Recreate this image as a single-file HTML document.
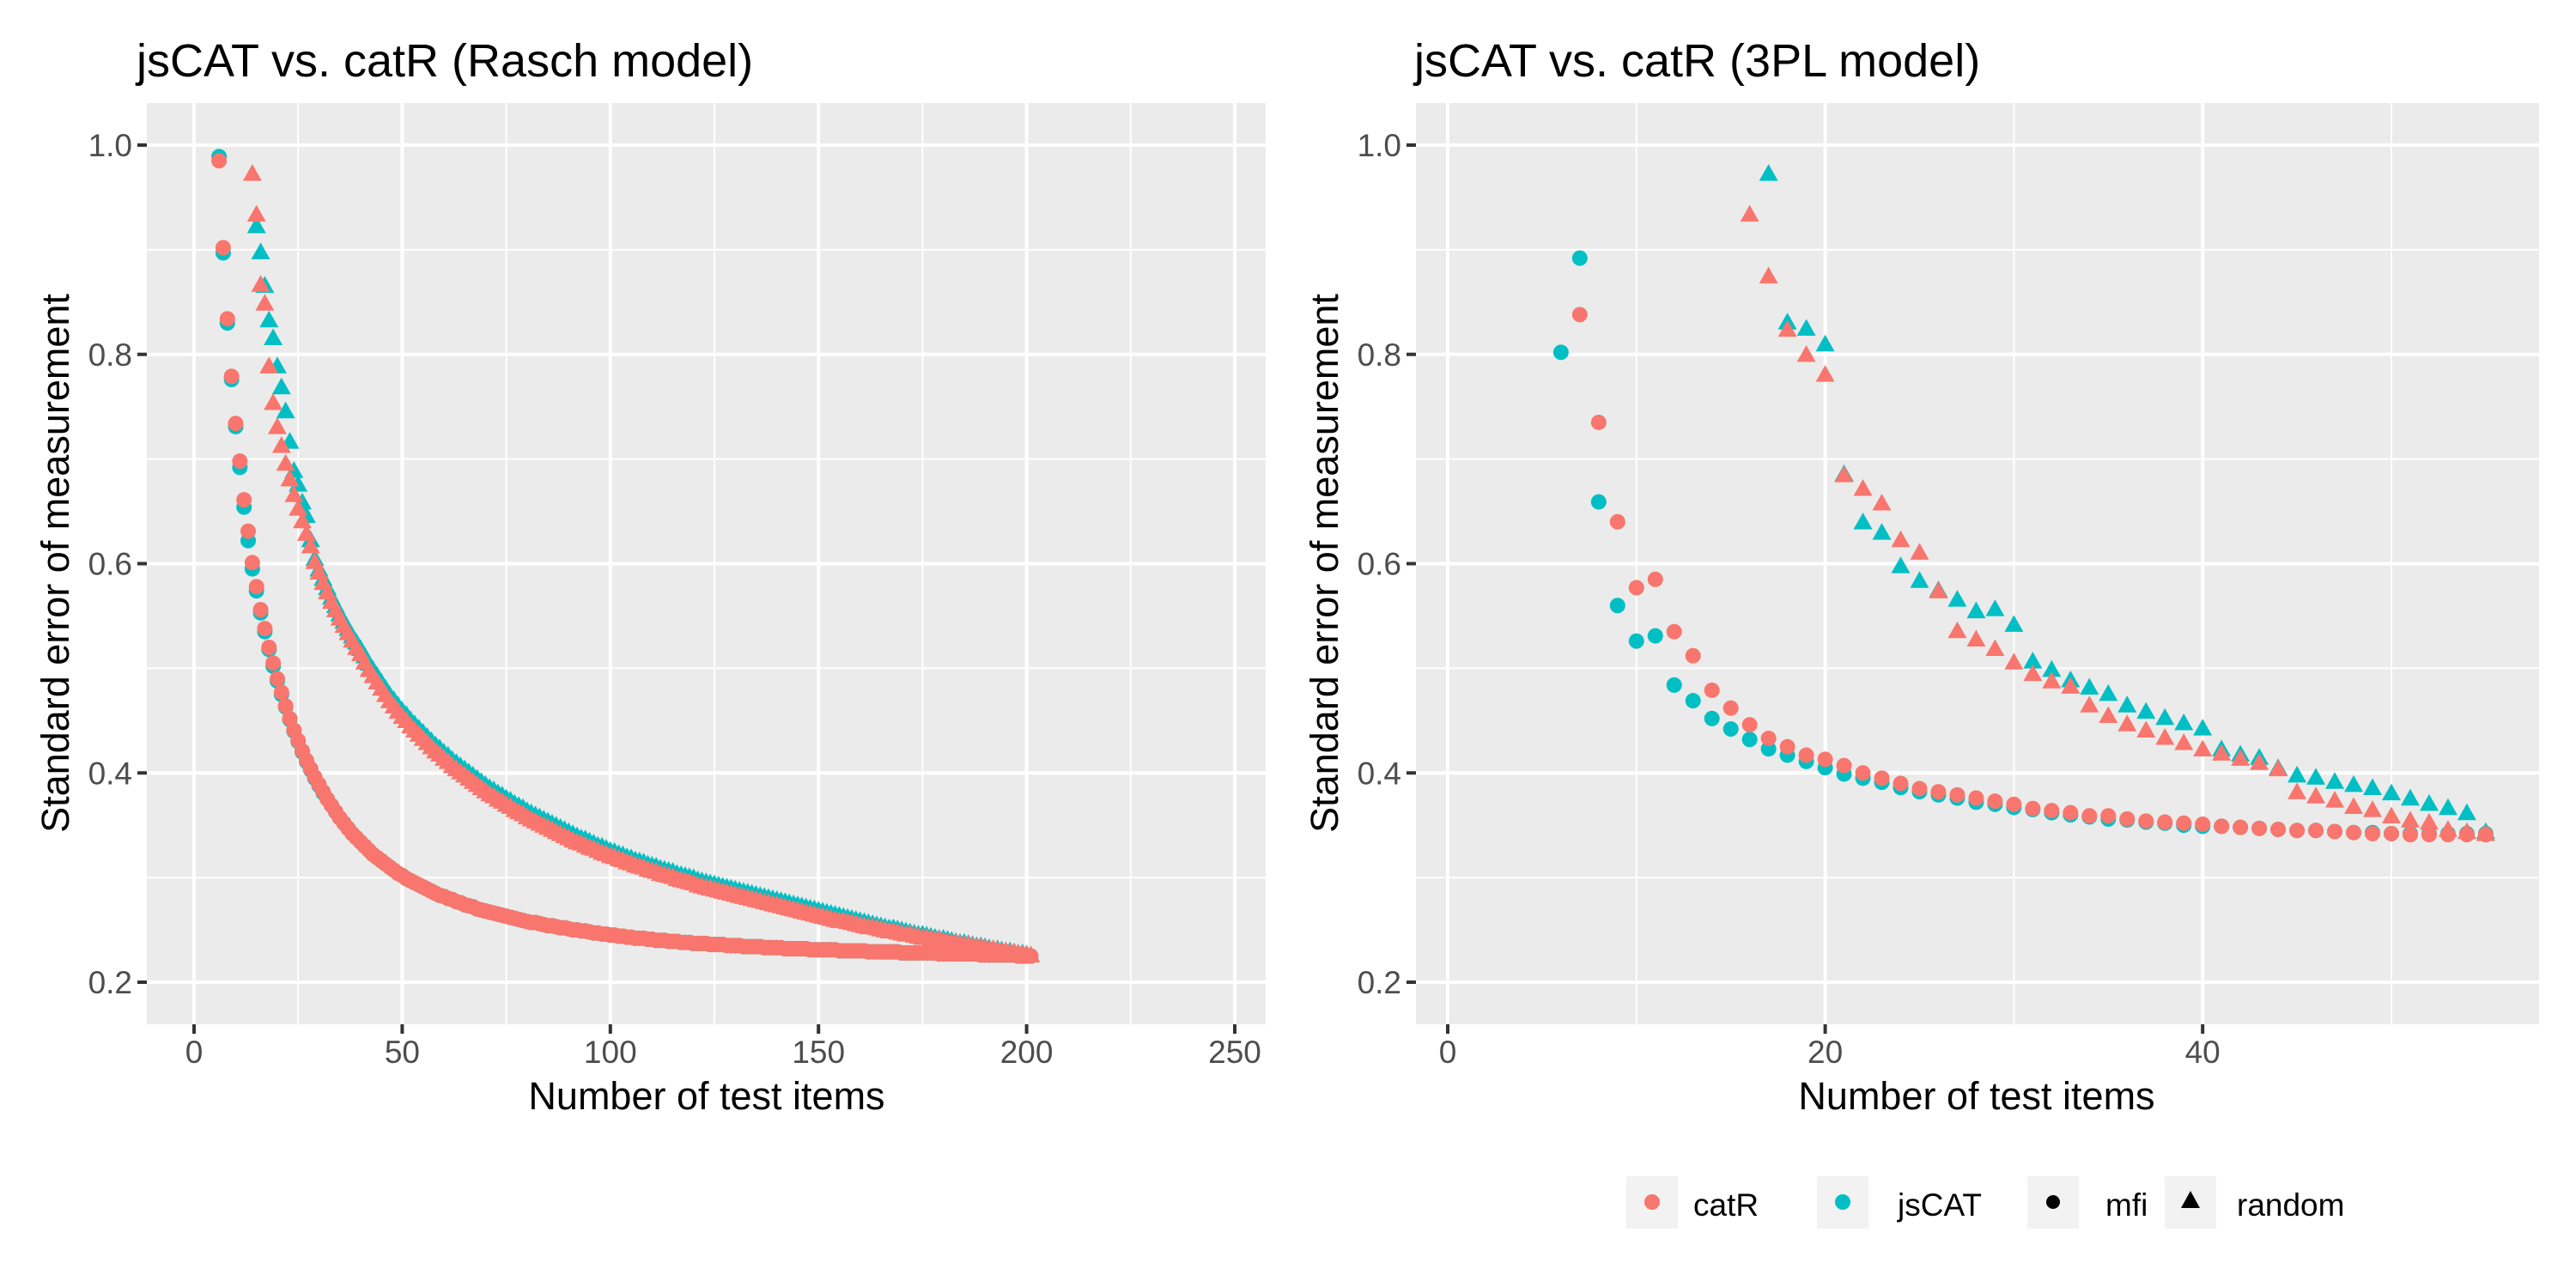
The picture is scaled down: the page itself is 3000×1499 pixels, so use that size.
<!DOCTYPE html>
<html><head><meta charset="utf-8"><style>
html,body{margin:0;padding:0;background:#fff;}
svg{display:block;font-family:"Liberation Sans",Arial,sans-serif;}
</style></head><body>
<svg id="chart" width="3000" height="1499" viewBox="0 0 3000 1499" xmlns="http://www.w3.org/2000/svg">
<rect x="0" y="0" width="3000" height="1499" fill="#fff"/>
<g id="left"></g>
<g id="right"></g>
<text x="159" y="89" font-size="54" fill="#000">jsCAT vs. catR (Rasch model)</text>
<text x="1647" y="89" font-size="54" fill="#000">jsCAT vs. catR (3PL model)</text>
<text x="823" y="1292" font-size="45" text-anchor="middle">Number of test items</text>
<text x="2302" y="1292" font-size="45" text-anchor="middle">Number of test items</text>
<text transform="translate(80,656) rotate(-90)" font-size="45" text-anchor="middle">Standard error of measurement</text>
<text transform="translate(1558,656) rotate(-90)" font-size="45" text-anchor="middle">Standard error of measurement</text>
<g id="legend">
 <g>
  <rect x="1894" y="1370" width="60" height="61" fill="#F2F2F2"/>
  <circle cx="1924" cy="1400" r="9" fill="#F8766D"/>
  <text x="1972" y="1416" font-size="37">catR</text>
 </g>
 <g>
  <rect x="2116" y="1370" width="60" height="61" fill="#F2F2F2"/>
  <circle cx="2146" cy="1400" r="9" fill="#00BFC4"/>
  <text x="2210" y="1416" font-size="37">jsCAT</text>
 </g>
 <g>
  <rect x="2361" y="1370" width="60" height="61" fill="#F2F2F2"/>
  <circle cx="2391" cy="1400" r="8" fill="#000"/>
  <text x="2452" y="1416" font-size="37">mfi</text>
 </g>
 <g>
  <rect x="2521" y="1370" width="60" height="61" fill="#F2F2F2"/>
  <polygon points="2551,1387 2562,1407 2540,1407" fill="#000"/>
  <text x="2605" y="1416" font-size="37">random</text>
 </g>
</g>
</svg>
<script>
// ---- Rasch panel data ----
const raschCatRMfiStart = 6;
const raschCatRMfi = [.985,.902,.834,.779,.734,.698,.661,.631,.601,.578,.556,.538,.520,.505,.490,.477,.464,.452,.441,.431,.421,.412,.404,.396,.389,
.382,.375,.369,.363,.357,.352,.347,.342,.338,.334,
.330,.326,.322,.319,.316,.313,.310,.307,.304,.302,
.299,.297,.295,.293,.291,.289,.287,.285,.283,.282,
.280,.279,.277,.276,.274,.273,.272,.270,.269,.268,
.267,.266,.265,.264,.263,.262,.261,.260,.259,.258,
.257,.257,.256,.255,.254,.254,.253,.252,.252,.251,
.250,.250,.249,.249,.248,.247,.247,.246,.246,.245,
.245,.244,.244,.243,.243,.242,.242,.242,.241,.241,
.240,.240,.240,.239,.239,.239,.238,.238,.238,.237,
.237,.237,.237,.236,.236,.236,.236,.235,.235,.235,
.235,.234,.234,.234,.234,.234,.233,.233,.233,.233,
.233,.232,.232,.232,.232,.232,.232,.231,.231,.231,
.231,.231,.231,.231,.230,.230,.230,.230,.230,.230,
.230,.229,.229,.229,.229,.229,.229,.229,.229,.228,
.228,.228,.228,.228,.228,.228,.228,.228,.227,.227,
.227,.227,.227,.227,.227,.227,.227,.227,.226,.226,
.226,.226,.226,.226,.226,.226,.226,.225,.225,.225,.225];
const raschJsMfiStart = 6;
const raschJsMfi = [.989,.897,.830,.776,.731,.692,.654,.622,.595,.574,.553,.535,.518,.502,.488,.475,.463,.451,.440,.430,.420,.411,.403,.395,.388,
.381,.375,.369,.363,.357,.352,.347,.342,.338,.334,
.330,.326,.322,.319,.316,.313,.310,.307,.304,.302,
.299,.297,.295,.293,.291,.289,.287,.285,.283,.282,
.280,.279,.277,.276,.274,.273,.272,.270,.269,.268,
.267,.266,.265,.264,.263,.262,.261,.260,.259,.258,
.257,.257,.256,.255,.254,.254,.253,.252,.252,.251,
.250,.250,.249,.249,.248,.247,.247,.246,.246,.245,
.245,.244,.244,.243,.243,.242,.242,.242,.241,.241,
.240,.240,.240,.239,.239,.239,.238,.238,.238,.237,
.237,.237,.237,.236,.236,.236,.236,.235,.235,.235,
.235,.234,.234,.234,.234,.234,.233,.233,.233,.233,
.233,.232,.232,.232,.232,.232,.232,.231,.231,.231,
.231,.231,.231,.231,.230,.230,.230,.230,.230,.230,
.230,.229,.229,.229,.229,.229,.229,.229,.229,.228,
.228,.228,.228,.228,.228,.228,.228,.228,.227,.227,
.227,.227,.227,.227,.227,.227,.227,.227,.226,.226,
.226,.226,.226,.226,.226,.226,.226,.225,.225,.225,.225];
const raschCatRRandStart = 14;
const raschCatRRand = [.972,.933,.866,.848,.788,.753,.730,.712,.695,.680,.665,.652,.640,.628,.616,.601,.591,
.581,.572,.563,.555,.547,.540,.533,.526,.519,.513,
.505,.498,.492,.486,.480,.474,.468,.463,.458,.453,
.449,.444,.440,.436,.432,.428,.424,.420,.417,.413,
.410,.406,.403,.400,.397,.394,.391,.388,.385,.382,
.379,.377,.374,.372,.369,.367,.364,.362,.360,.357,
.355,.353,.351,.349,.347,.345,.343,.341,.339,.337,
.335,.333,.332,.330,.328,.327,.325,.323,.322,.320,
.319,.317,.316,.314,.313,.311,.310,.309,.307,.306,
.305,.303,.302,.301,.300,.298,.297,.296,.295,.294,
.292,.291,.290,.289,.288,.287,.286,.285,.284,.283,
.282,.281,.280,.279,.278,.277,.276,.275,.274,.273,
.272,.271,.270,.269,.268,.267,.266,.265,.264,.263,
.262,.261,.260,.259,.258,.258,.257,.256,.255,.254,
.253,.252,.252,.251,.250,.249,.248,.248,.247,.246,
.245,.245,.244,.243,.242,.242,.241,.240,.240,.239,
.238,.237,.237,.236,.235,.235,.234,.233,.233,.232,
.231,.231,.230,.229,.229,.228,.228,.227,.226,.226,.225];
const raschJsRandStart = 15;
const raschJsRand = [.922,.897,.865,.832,.815,.788,.768,.745,.716,.688,.675,.658,.645,.622,.604,.594,
.585,.576,.567,.559,.551,.544,.537,.530,.524,.518,
.511,.504,.498,.492,.486,.480,.474,.469,.464,.459,
.455,.450,.446,.442,.438,.434,.430,.426,.423,.419,
.416,.412,.409,.406,.403,.400,.397,.394,.391,.388,
.385,.383,.380,.378,.375,.373,.370,.368,.366,.363,
.361,.359,.357,.355,.353,.351,.349,.347,.345,.343,
.341,.339,.337,.336,.334,.332,.330,.329,.327,.325,
.324,.322,.321,.319,.318,.316,.315,.314,.312,.311,
.310,.308,.307,.306,.305,.303,.302,.301,.300,.299,
.297,.296,.295,.294,.293,.292,.291,.290,.289,.288,
.287,.286,.285,.284,.283,.282,.281,.280,.279,.278,
.277,.276,.275,.274,.273,.272,.271,.270,.269,.268,
.267,.266,.265,.264,.263,.262,.261,.260,.259,.258,
.257,.256,.255,.254,.253,.252,.251,.251,.250,.249,
.248,.247,.246,.245,.245,.244,.243,.242,.241,.241,
.240,.239,.238,.237,.237,.236,.235,.234,.234,.233,
.232,.231,.231,.230,.229,.229,.228,.227,.227,.226,.225];
const raschXTicks = [0,50,100,150,200,250];
const raschXMinor = [25,75,125,175,225];

// ---- 3PL panel data ----
const plCatRMfiStart = 7;
const plCatRMfi = [.838,.735,.640,.577,.585,.535,.512,.479,.462,.446,.433,.425,.417,.413,.407,.400,.395,.390,.385,.382,.379,.376,.373,.370,.366,.364,.362,.359,.359,.356,.354,.353,.352,.351,.349,.348,.347,.346,.345,.345,.344,.343,.342,.342,.341,.341,.341,.341,.341];
const plJsMfiStart = 6;
const plJsMfi = [.802,.892,.659,.560,.526,.531,.484,.469,.452,.442,.432,.423,.417,.411,.405,.399,.395,.391,.386,.382,.379,.376,.372,.370,.367,.365,.362,.360,.358,.356,.355,.353,.352,.350,.349,.349,.348,.347,.346,.345,.345,.344,.343,.343,.342,.342,.342,.342,.342,.342];
const plCatRRandStart = 16;
const plCatRRand = [.933,.874,.823,.799,.780,.684,.671,.657,.622,.610,.573,.535,.527,.518,.505,.494,.487,.482,.464,.454,.446,.440,.433,.428,.422,.418,.413,.409,.403,.381,.377,.373,.367,.364,.358,.354,.352,.345,.343,.341];
const plJsRandStart = 17;
const plJsRand = [.972,.830,.824,.809,.685,.639,.629,.597,.583,.574,.565,.554,.556,.541,.506,.498,.488,.481,.475,.464,.458,.452,.447,.442,.422,.417,.414,.404,.397,.395,.391,.388,.385,.380,.375,.370,.366,.361,.343];
const plXTicks = [0,20,40];
const plXMinor = [10,30,50];

const yTicks = [0.2,0.4,0.6,0.8,1.0];
const yTickLabels = ["0.2","0.4","0.6","0.8","1.0"];
const yMinor = [0.3,0.5,0.7,0.9];

const NS = "http://www.w3.org/2000/svg";
const COL_CATR = "#F8766D", COL_JS = "#00BFC4";
function mk(tag, attrs, parent){
  const e = document.createElementNS(NS, tag);
  for (const k in attrs) e.setAttribute(k, attrs[k]);
  parent.appendChild(e);
  return e;
}
const yScale = v => 1144 - (v - 0.2) * (975 / 0.8);

function drawPanel(g, left, right, x0, unit, xTicks, xMinor, series){
  const xScale = v => x0 + v * unit;
  const top = 120, bottom = 1193;
  const bg = mk("rect", {x:left, y:top, width:right-left, height:bottom-top, fill:"#EBEBEB"}, g);
  
  
  yMinor.forEach(v => mk("line", {x1:left, x2:right, y1:yScale(v), y2:yScale(v), stroke:"#fff", "stroke-width":2}, g));
  xMinor.forEach(v => mk("line", {x1:xScale(v), x2:xScale(v), y1:top, y2:bottom, stroke:"#fff", "stroke-width":2}, g));
  yTicks.forEach((v,i) => {
    const y = yScale(v);
    mk("line", {x1:left, x2:right, y1:y, y2:y, stroke:"#fff", "stroke-width":4}, g);
    mk("line", {x1:left-11, x2:left, y1:y, y2:y, stroke:"#333", "stroke-width":4}, g);
    const t = mk("text", {x:left-17, y:y+13, "font-size":37, fill:"#4D4D4D", "text-anchor":"end"}, g);
    t.textContent = yTickLabels[i];
    
    
  });
  xTicks.forEach(v => {
    const x = xScale(v);
    mk("line", {x1:x, x2:x, y1:top, y2:bottom, stroke:"#fff", "stroke-width":4}, g);
    mk("line", {x1:x, x2:x, y1:bottom, y2:bottom+11, stroke:"#333", "stroke-width":4}, g);
    const t = mk("text", {x:x, y:bottom+45, "font-size":37, fill:"#4D4D4D", "text-anchor":"middle"}, g);
    t.textContent = String(v);
    
    
  });
  series.forEach(s => {
    const sg = mk("g", {}, g);
    
    
    s.values.forEach((v,i) => {
      const cx = xScale(s.start + i), cy = yScale(v);
      let p;
      if (s.shape === "circle") {
        p = mk("circle", {cx:cx, cy:cy, r:9, fill:s.color}, sg);
      } else {
        p = mk("polygon", {points:`${cx},${cy-12} ${cx+11},${cy+7.5} ${cx-11},${cy+7.5}`, fill:s.color}, sg);
      }
      
      
    });
  });
}

drawPanel(document.getElementById("left"), 171, 1474, 226, 4.848, raschXTicks, raschXMinor, [
  {name:"jscat-mfi-series", values:raschJsMfi, start:raschJsMfiStart, color:COL_JS, shape:"circle"},
  {name:"jscat-random-series", values:raschJsRand, start:raschJsRandStart, color:COL_JS, shape:"tri"},
  {name:"catr-mfi-series", values:raschCatRMfi, start:raschCatRMfiStart, color:COL_CATR, shape:"circle"},
  {name:"catr-random-series", values:raschCatRRand, start:raschCatRRandStart, color:COL_CATR, shape:"tri"}
]);
drawPanel(document.getElementById("right"), 1649, 2957, 1686, 21.98, plXTicks, plXMinor, [
  {name:"jscat-mfi-series", values:plJsMfi, start:plJsMfiStart, color:COL_JS, shape:"circle"},
  {name:"jscat-random-series", values:plJsRand, start:plJsRandStart, color:COL_JS, shape:"tri"},
  {name:"catr-mfi-series", values:plCatRMfi, start:plCatRMfiStart, color:COL_CATR, shape:"circle"},
  {name:"catr-random-series", values:plCatRRand, start:plCatRRandStart, color:COL_CATR, shape:"tri"}
]);
</script>
</body></html>
